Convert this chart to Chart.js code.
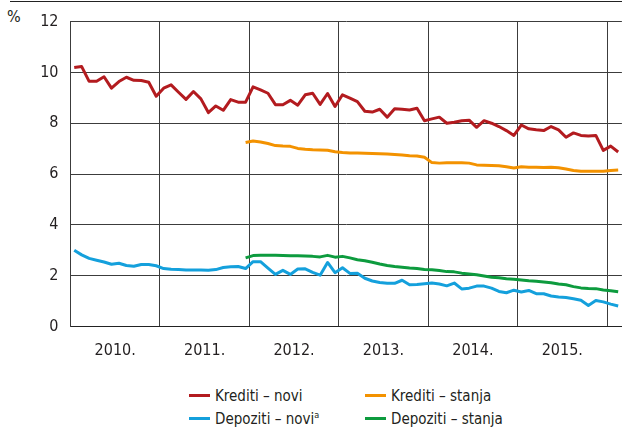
<!DOCTYPE html>
<html>
<head>
<meta charset="utf-8">
<script src="https://cdn.jsdelivr.net/npm/chart.js@4/dist/chart.umd.min.js"></script>
<style>
  html, body { margin: 0; padding: 0; background: #fff; }
  body { width: 622px; height: 432px; position: relative; overflow: hidden;
         font-family: 'Liberation Sans Narrow', 'DejaVu Sans Condensed', 'Arial Narrow', sans-serif; color: #231f20; }
  #rule { position: absolute; left: 10px; right: 0; top: 1px; height: 0; border-top: 1px solid #222; }
  #unit { position: absolute; left: 7px; top: 7px; font-size: 16px; }
  #wrap { position: absolute; left: 0; top: 0; width: 622px; height: 360px; }
  .lg { position: absolute; font-size: 15px; line-height: 18px; white-space: nowrap; }
  .lg i { display: inline-block; width: 21px; height: 3px; vertical-align: middle; margin-right: 5px; position: relative; top: -1px; }
  .lg sup { font-size: 9px; vertical-align: 6px; line-height: 0; }
</style>
</head>
<body>
<div id="rule"></div>
<div id="unit">%</div>
<div id="wrap"><canvas id="c"></canvas></div>
<div class="lg" style="left:189px; top:387px"><i style="background:#b31b1f"></i>Krediti – novi</div>
<div class="lg" style="left:365px; top:387px"><i style="background:#f39200"></i>Krediti – stanja</div>
<div class="lg" style="left:189px; top:410px"><i style="background:#14a0dc"></i>Depoziti – novi<sup>a</sup></div>
<div class="lg" style="left:365px; top:410px"><i style="background:#0d9b3e"></i>Depoziti – stanja</div>
<script>
// monthly series, Jan 2010 – Feb 2016 (stanja series start Dec 2011)
var YEARS = ['2010.', '2011.', '2012.', '2013.', '2014.', '2015.'];
var STANJA_START = 23;   // month index of Dec 2011

var KREDITI_NOVI = [10.19,10.23,9.65,9.65,9.83,9.38,9.64,9.81,9.69,9.68,9.61,9.06,
  9.38,9.51,9.22,8.94,9.25,8.96,8.42,8.68,8.51,8.93,8.83,8.83,
  9.43,9.31,9.18,8.73,8.73,8.90,8.71,9.12,9.18,8.74,9.17,8.66,
  9.12,8.99,8.85,8.47,8.44,8.55,8.24,8.57,8.55,8.52,8.59,8.10,
  8.17,8.24,8.00,8.04,8.10,8.12,7.84,8.10,8.00,7.87,7.71,7.52,
  7.93,7.78,7.74,7.71,7.87,7.74,7.45,7.62,7.52,7.50,7.52,6.93,
  7.10,6.87];
var DEPOZITI_NOVI = [3.00,2.82,2.68,2.61,2.54,2.45,2.49,2.40,2.37,2.44,2.44,2.39,
  2.28,2.25,2.24,2.22,2.22,2.22,2.21,2.24,2.32,2.35,2.36,2.28,
  2.55,2.55,2.30,2.05,2.21,2.05,2.26,2.27,2.13,2.02,2.52,2.12,
  2.31,2.09,2.10,1.90,1.79,1.73,1.70,1.70,1.82,1.64,1.65,1.68,
  1.71,1.67,1.60,1.71,1.48,1.51,1.59,1.59,1.51,1.38,1.33,1.43,
  1.36,1.42,1.29,1.29,1.20,1.16,1.14,1.09,1.03,0.83,1.02,0.97,
  0.88,0.81];
var KREDITI_STANJA = [7.24,
  7.30,7.26,7.20,7.12,7.10,7.09,7.01,6.98,6.96,6.95,6.94,6.88,
  6.85,6.83,6.83,6.82,6.81,6.80,6.79,6.77,6.75,6.72,6.71,6.66,
  6.45,6.43,6.44,6.44,6.44,6.43,6.36,6.35,6.34,6.33,6.29,6.24,
  6.29,6.27,6.27,6.26,6.27,6.25,6.20,6.14,6.11,6.11,6.11,6.11,
  6.14,6.16];
var DEPOZITI_STANJA = [2.70,
  2.79,2.80,2.80,2.80,2.79,2.78,2.78,2.77,2.76,2.74,2.80,2.73,
  2.76,2.70,2.63,2.59,2.53,2.46,2.40,2.36,2.33,2.30,2.28,2.24,
  2.23,2.20,2.16,2.15,2.10,2.07,2.04,1.99,1.94,1.92,1.88,1.86,
  1.83,1.80,1.78,1.75,1.72,1.67,1.64,1.57,1.52,1.50,1.49,1.44,
  1.41,1.37];

var FONT = "'Liberation Sans Narrow', 'DejaVu Sans Condensed', 'Arial Narrow', sans-serif";
var GRID = '#3c3c3c';

function pts(arr, start) {   // month index -> centre of that month's slot
  return arr.map(function (v, i) { return { x: start + i + 0.5, y: v }; });
}
function line(data, color) {
  return { data: data, borderColor: color, backgroundColor: color, borderWidth: 3,
           pointRadius: 0, tension: 0, borderJoinStyle: 'round', fill: false };
}

new Chart(document.getElementById('c').getContext('2d'), {
  type: 'line',
  data: {
    datasets: [
      line(pts(KREDITI_STANJA, STANJA_START), '#f39200'),
      line(pts(DEPOZITI_STANJA, STANJA_START), '#0d9b3e'),
      line(pts(DEPOZITI_NOVI, 0), '#14a0dc'),
      line(pts(KREDITI_NOVI, 0), '#b31b1f')
    ]
  },
  options: {
    responsive: true, maintainAspectRatio: false, animation: false,
    layout: { padding: { top: 16, right: 0, left: 0, bottom: 0 } },
    plugins: { legend: { display: false }, tooltip: { enabled: false } },
    scales: {
      x: { type: 'linear', min: 0, max: 74,
        afterFit: function (s) { s.height = 33.5; },
        afterBuildTicks: function (s) {
          var t = [];
          for (var m = 0; m <= 72; m += 6) t.push({ value: m });
          s.ticks = t;
        },
        border: { color: '#222', width: 1 },
        grid: { drawTicks: false, color: function (c) { return c.tick && c.tick.value % 12 === 0 ? GRID : 'transparent'; } },
        ticks: { padding: 15, maxRotation: 0, autoSkip: false, color: '#231f20', font: { family: FONT, size: 16 },
          callback: function (v) { return v % 12 === 6 ? YEARS[(v - 6) / 12] : ''; } } },
      y: { min: 0, max: 12,
        afterFit: function (s) { s.width = 70.5; },
        border: { color: GRID, width: 1 },
        grid: { drawTicks: false, color: GRID },
        ticks: { stepSize: 2, padding: 12, color: '#231f20', font: { family: FONT, size: 16 } } }
    }
  }
});
</script>
</body>
</html>
